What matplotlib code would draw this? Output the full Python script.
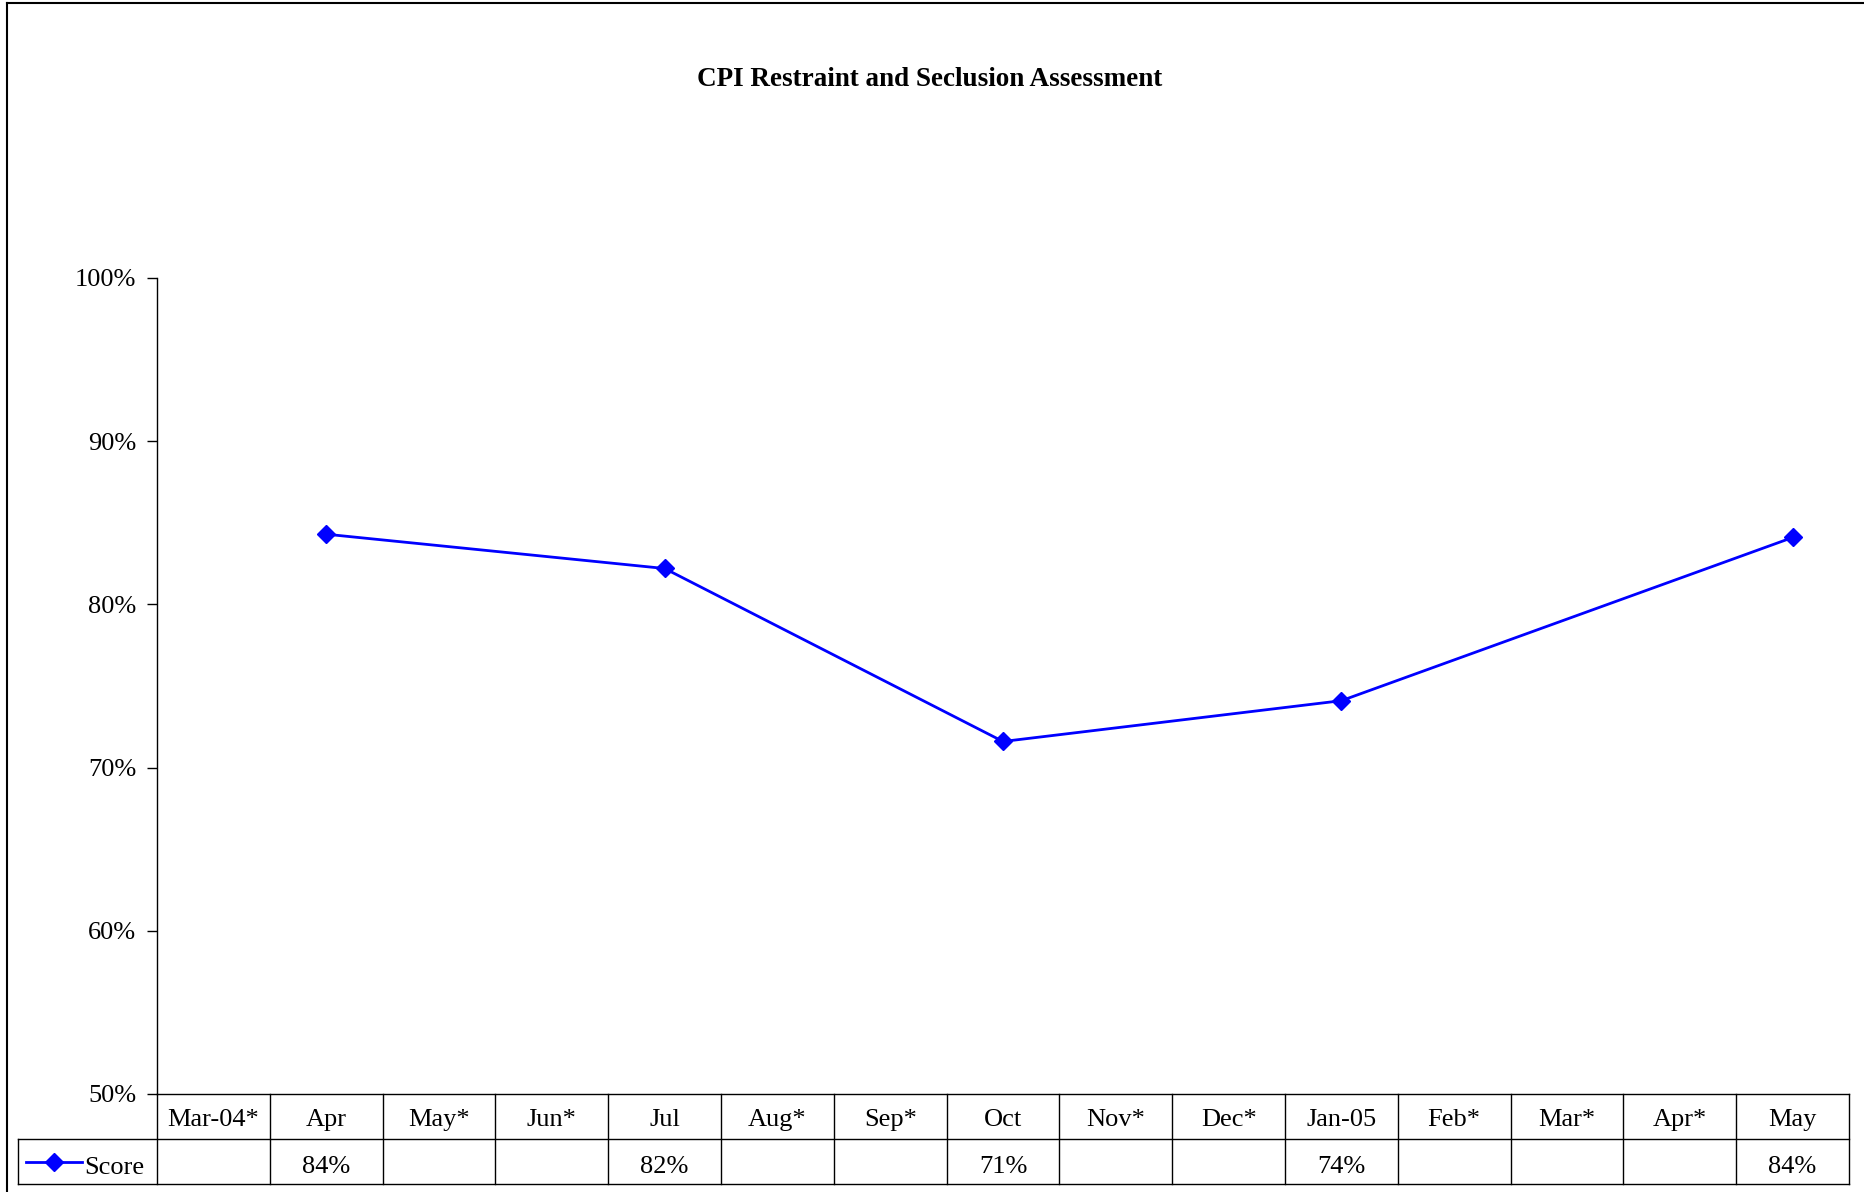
import matplotlib
matplotlib.use("Agg")
import matplotlib.pyplot as plt
from matplotlib.lines import Line2D
import numpy as np

categories = ["Mar-04*", "Apr", "May*", "Jun*", "Jul", "Aug*", "Sep*", "Oct",
              "Nov*", "Dec*", "Jan-05", "Feb*", "Mar*", "Apr*", "May"]
score = [None, 0.843, None, None, 0.822, None, None, 0.716, None, None,
         0.741, None, None, None, 0.841]
series_name = "Score"
title = "CPI Restraint and Seclusion Assessment"
yticks = [0.5, 0.6, 0.7, 0.8, 0.9, 1.0]

plt.rcParams['font.family'] = ['Liberation Serif', 'DejaVu Serif']

W, H = 1865, 1192
fig = plt.figure(figsize=(W / 100, H / 100), dpi=100)

def fx(px):
    return px / W

def fy(py):
    return 1 - py / H

FS = 19

ax_l, ax_r, ax_t, ax_b = 157, 1849, 278, 1094
ax = fig.add_axes([fx(ax_l), fy(ax_b), fx(ax_r - ax_l), fy(ax_t) - fy(ax_b)])
n = len(categories)
ax.set_xlim(-0.5, n - 0.5)
ax.set_ylim(0.5, 1.0)
ax.set_yticks(yticks)
ax.set_yticklabels([f"{int(round(v * 100))}%" for v in yticks], fontsize=FS)
ax.set_xticks([])
for s in ["top", "right", "bottom"]:
    ax.spines[s].set_visible(False)
ax.spines["left"].set_linewidth(1.0)
ax.tick_params(axis="y", direction="out", length=7, width=1.0, pad=8)

xs = [i for i, v in enumerate(score) if v is not None]
ys = [v for v in score if v is not None]
ax.plot(xs, ys, color="#0000FF", lw=2.0, marker="D", ms=9, mfc="#0000FF",
        mec="#0000FF", clip_on=False, zorder=5)

# Title
fig.text(fx(930), fy(79), title, ha="center", va="center", fontsize=19.5,
         fontweight="bold")

# Data table
col_w = (ax_r - ax_l) / n
leg_l = 18
r1_t, r1_b, r2_b = 1094, 1142, 1184
tax = fig.add_axes([fx(leg_l), fy(r2_b), fx(ax_r - leg_l), fy(r1_t) - fy(r2_b)])
left_ext = -0.5 - (ax_l - leg_l) / col_w
tax.set_xlim(left_ext, n - 0.5)
tax.set_ylim(0, 2)
tax.axis("off")
lc = "black"
lw = 1.0
tax.plot([-0.5, n - 0.5], [2, 2], color=lc, lw=lw, clip_on=False)
tax.plot([left_ext, n - 0.5], [1, 1], color=lc, lw=lw, clip_on=False)
tax.plot([left_ext, n - 0.5], [0, 0], color=lc, lw=lw, clip_on=False)
for i in range(n + 1):
    tax.plot([i - 0.5, i - 0.5], [0, 2], color=lc, lw=lw, clip_on=False)
tax.plot([left_ext, left_ext], [0, 1], color=lc, lw=lw, clip_on=False)
for i, c in enumerate(categories):
    tax.text(i, 1.42, c, ha="center", va="center", fontsize=FS)
    if score[i] is not None:
        tax.text(i, 0.38, f"{int(score[i] * 100)}%", ha="center",
                 va="center", fontsize=FS)
# legend key
kx0 = left_ext + 8 / col_w
kx1 = kx0 + 56 / col_w
tax.plot([kx0, kx1], [0.5, 0.5], color="#0000FF", lw=2.0, clip_on=False)
tax.plot([(kx0 + kx1) / 2], [0.5], marker="D", ms=9, color="#0000FF",
         clip_on=False)
tax.text(kx1 + 2 / col_w, 0.36, series_name, ha="left", va="center", fontsize=FS)

# Figure border (left and top)
fig.add_artist(Line2D([fx(7), fx(7)], [fy(3), 0], color="black", lw=1.5,
                      transform=fig.transFigure))
fig.add_artist(Line2D([fx(7), 1], [fy(3), fy(3)], color="black", lw=1.5,
                      transform=fig.transFigure))

fig.savefig("out.png", dpi=100)
